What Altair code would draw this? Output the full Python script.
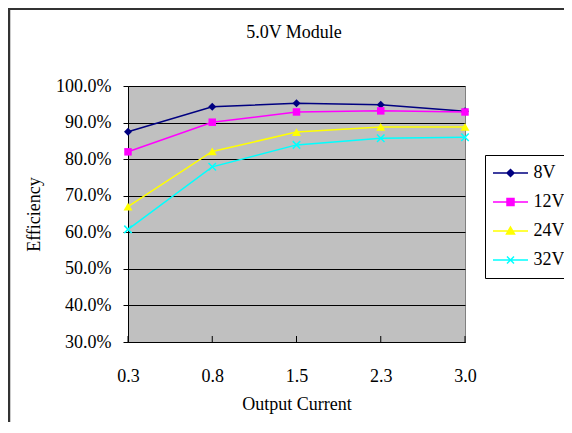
import altair as alt
import pandas as pd

# ---- data ----
title_text = "5.0V Module"
categories = ["0.3", "0.8", "1.5", "2.3", "3.0"]
series_names = ["8V", "12V", "24V", "32V"]
eff_8v = [87.5, 94.3, 95.3, 94.9, 93.1]
eff_12v = [82.0, 90.1, 92.9, 93.2, 92.9]
eff_24v = [67.0, 82.1, 87.4, 88.8, 88.8]
eff_32v = [60.8, 77.9, 83.9, 85.7, 86.0]
y_ticks = [0.3, 0.4, 0.5, 0.6, 0.7, 0.8, 0.9, 1.0]

# ---- styles ----
series_colors = ["#000080", "#FF00FF", "#FFFF00", "#00FFFF"]
marker_shapes = ["diamond", "square", "triangle-up", "M-1,-1L1,1M-1,1L1,-1"]
marker_sizes = [64, 56, 80, 56]
marker_filled = [True, True, True, False]
LINE = "M-2.1875,0H2.1875"
legend_shapes = [
    LINE + "M0,-0.4375L0.4375,0L0,0.4375L-0.4375,0Z",
    LINE + "M-0.4375,-0.4375H0.4375V0.4375H-0.4375Z",
    LINE + "M0,-0.5L0.5,0.375H-0.5Z",
    LINE + "M-0.4375,-0.4375L0.4375,0.4375M-0.4375,0.4375L0.4375,-0.4375",
]

values = {"8V": eff_8v, "12V": eff_12v, "24V": eff_24v, "32V": eff_32v}
rows = []
for s in series_names:
    for c, v in zip(categories, values[s]):
        rows.append({"current": c, "series": s, "eff": v / 100.0})
df = pd.DataFrame(rows)

W, H = 337, 256
FONT = "Liberation Serif"

x_enc = alt.X(
    "current:N",
    sort=categories,
    scale=alt.Scale(type="point", padding=0),
    title="Output Current",
    axis=alt.Axis(
        labelAngle=0, ticks=False, tickSize=0, grid=False,
        domainColor="black", domainWidth=1,
        labelFont=FONT, labelFontSize=18, labelColor="black",
        labelBaseline="alphabetic", labelPadding=39,
        titleFont=FONT, titleFontSize=18, titleFontWeight="normal",
        titleColor="black", titleBaseline="alphabetic",
        titleX=W / 2, titleY=67, titleAlign="center",
    ),
)
y_enc = alt.Y(
    "eff:Q",
    scale=alt.Scale(domain=[0.3, 1.0], nice=False, zero=False),
    title="Efficiency",
    axis=alt.Axis(
        values=y_ticks, format=".1%", grid=True, gridColor="black",
        gridWidth=1, domainColor="black", domainWidth=1,
        tickSize=5, tickColor="black",
        labelFont=FONT, labelFontSize=18, labelColor="black",
        labelPadding=12,
        titleFont=FONT, titleFontSize=18, titleFontWeight="normal",
        titleColor="black", titleAngle=270, titleX=-94, titleY=H / 2,
        titleBaseline="middle", titleAlign="center",
    ),
)

base = alt.Chart(df)

line_layers = []
point_layers = []
for s, col, shp, sz, fl in zip(series_names, series_colors, marker_shapes,
                               marker_sizes, marker_filled):
    sub = base.transform_filter(alt.datum.series == s)
    line_layers.append(
        sub.mark_line(strokeWidth=1.5, color=col).encode(x=x_enc, y=y_enc)
    )
    point_layers.append(
        sub.mark_point(shape=shp, size=sz, filled=fl, color=col, opacity=1,
                       strokeWidth=1.5)
        .encode(x=x_enc, y=y_enc)
    )

tick_df = pd.DataFrame({"current": categories})
inner_ticks = alt.Chart(tick_df).mark_rule(color="black", strokeWidth=1).encode(
    x=x_enc, y=alt.value(H - 6), y2=alt.value(H)
)

leg_props = dict(
    orient="none", legendX=357, legendY=69, title=None,
    labelFont=FONT, labelFontSize=18, labelColor="black",
    symbolSize=256, symbolStrokeWidth=1.5, symbolOpacity=1,
    padding=9, rowPadding=11, symbolOffset=7.5, labelOffset=14,
    strokeColor="black", fillColor="white",
)
legend_layer = base.mark_point(filled=True, opacity=0).encode(
    x=x_enc, y=y_enc,
    fill=alt.Fill("series:N",
                  scale=alt.Scale(domain=series_names, range=series_colors),
                  legend=alt.Legend(**leg_props)),
    stroke=alt.Stroke("series:N",
                      scale=alt.Scale(domain=series_names, range=series_colors),
                      legend=alt.Legend(**leg_props)),
    shape=alt.Shape("series:N",
                    scale=alt.Scale(domain=series_names, range=legend_shapes),
                    legend=alt.Legend(**leg_props)),
)

title_layer = alt.Chart(pd.DataFrame({"t": [title_text]})).mark_text(
    font=FONT, fontSize=18, color="black", align="center", baseline="alphabetic"
).encode(text="t:N", x=alt.value(W / 2 - 2.5), y=alt.value(-48))

frame_df = pd.DataFrame({"k": [0]})
frame_left = alt.Chart(frame_df).mark_rule(color="#333333", strokeWidth=2.5).encode(
    x=alt.value(-119), y=alt.value(-78), y2=alt.value(H + 80)
)
frame_top = alt.Chart(frame_df).mark_rule(color="#333333", strokeWidth=2).encode(
    x=alt.value(-120), x2=alt.value(W + 99), y=alt.value(-77)
)

chart = (
    alt.layer(frame_left, frame_top, title_layer, *line_layers, inner_ticks,
              *point_layers, legend_layer)
    .properties(
        width=W, height=H,
        autosize=alt.AutoSizeParams(type="none"),
        padding={"left": 120, "top": 78, "right": 99, "bottom": 80},
    )
    .configure(background="white")
    .configure_view(fill="#C0C0C0", stroke="#808080", strokeWidth=1)
    .configure_legend(labelFont=FONT, labelFontSize=18, labelColor="black")
)

chart.save("out.html", embed_options={"renderer": "svg", "actions": False})
